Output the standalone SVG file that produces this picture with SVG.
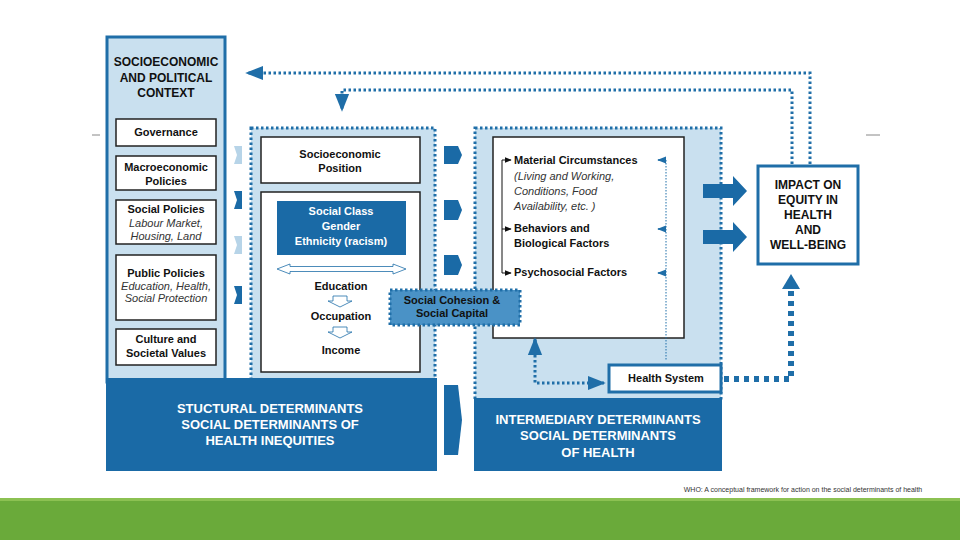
<svg xmlns="http://www.w3.org/2000/svg" width="960" height="540" viewBox="0 0 960 540">
<style>
text{font-family:"Liberation Sans",Arial,sans-serif;font-weight:bold;fill:#111;text-anchor:middle}
.wb{fill:#fff;stroke:#222;stroke-width:1.5}
.dot{fill:#c9e0ef;stroke:#1f6ea8;stroke-width:3;stroke-dasharray:2.5 2.5}
.dl{fill:none;stroke:#1f6ea8;stroke-width:3;stroke-dasharray:2.5 2.5}
.it{font-weight:normal;font-style:italic;fill:#333}
.w{fill:#fff}
.bl{fill:#1a6aa6}
</style>
<defs>
<marker id="ah" viewBox="0 0 10 10" refX="5" refY="5" markerWidth="4" markerHeight="4" orient="auto"><path d="M0,0L10,5L0,10z" fill="#1f6ea8"/></marker>
<marker id="sa" viewBox="0 0 10 10" refX="9" refY="5" markerWidth="6" markerHeight="6" orient="auto"><path d="M0,1L10,5L0,9z" fill="#1f6ea8"/></marker>
<marker id="ka" viewBox="0 0 10 10" refX="9" refY="5" markerWidth="7" markerHeight="7" orient="auto"><path d="M0,1L10,5L0,9z" fill="#111"/></marker>
</defs>
<rect width="960" height="540" fill="#fff"/>
<line x1="92" y1="135" x2="100" y2="135" stroke="#888"/>
<line x1="866" y1="135" x2="880" y2="135" stroke="#888"/>

<g id="context">
<rect x="107" y="37" width="118" height="345" fill="#c9e0ef" stroke="#1f6ea8" stroke-width="3"/>
<text x="166" y="66" font-size="12">SOCIOECONOMIC</text>
<text x="166" y="82" font-size="12">AND POLITICAL</text>
<text x="166" y="97" font-size="12">CONTEXT</text>
</g>
<g id="governance"><rect class="wb" x="116" y="119" width="100" height="27"/><text x="166" y="136" font-size="11">Governance</text></g>
<g id="macro"><rect class="wb" x="116" y="156" width="100" height="34"/><text x="166" y="171" font-size="11">Macroeconomic</text><text x="166" y="185" font-size="11">Policies</text></g>
<g id="social-policies"><rect class="wb" x="116" y="200" width="100" height="44"/><text x="166" y="213" font-size="11">Social Policies</text><text class="it" x="166" y="227" font-size="11">Labour Market,</text><text class="it" x="166" y="240" font-size="11">Housing, Land</text></g>
<g id="public-policies"><rect class="wb" x="116" y="255" width="100" height="65"/><text x="166" y="277" font-size="11">Public Policies</text><text class="it" x="166" y="290" font-size="11">Education, Health,</text><text class="it" x="166" y="302" font-size="11">Social Protection</text></g>
<g id="culture"><rect class="wb" x="116" y="329" width="100" height="36"/><text x="166" y="343" font-size="11">Culture and</text><text x="166" y="357" font-size="11">Societal Values</text></g>

<g id="structural">
<rect class="dot" x="251" y="128" width="184" height="252"/>
<rect class="bl" x="106" y="378" width="331" height="93"/>
<text class="w" x="270" y="413" font-size="13">STUCTURAL DETERMINANTS</text>
<text class="w" x="270" y="429" font-size="13">SOCIAL DETERMINANTS OF</text>
<text class="w" x="270" y="445" font-size="13">HEALTH INEQUITIES</text>
</g>
<g id="sep"><rect class="wb" x="261" y="137" width="159" height="46"/><text x="340" y="158" font-size="11">Socioeconomic</text><text x="340" y="172" font-size="11">Position</text></g>
<g id="class-box">
<rect class="wb" x="261" y="192" width="159" height="180"/>
<rect class="bl" x="277" y="201" width="129" height="54"/>
<text class="w" x="341" y="215" font-size="11">Social Class</text>
<text class="w" x="341" y="230" font-size="11">Gender</text>
<text class="w" x="341" y="245" font-size="11">Ethnicity (racism)</text>
<path d="M277,269L290,264V266.5H393V264L406,269L393,274V271.5H290V274Z" fill="#fff" stroke="#1f6ea8" stroke-width="0.8"/>
<text x="341" y="290" font-size="11">Education</text>
<path d="M330,295h5v4h-5h17v4h-5v-4" fill="none"/>
<path d="M333,296h14v5h5l-12,6l-12,-6h5z" fill="#fff" stroke="#1f6ea8" stroke-width="0.8"/>
<text x="341" y="320" font-size="11">Occupation</text>
<path d="M333,327h14v5h5l-12,6l-12,-6h5z" fill="#fff" stroke="#1f6ea8" stroke-width="0.8"/>
<text x="341" y="354" font-size="11">Income</text>
</g>

<g id="intermediary">
<rect class="dot" x="475" y="128" width="246" height="272"/>
<rect class="bl" x="474" y="398" width="248" height="73"/>
<text class="w" x="598" y="424" font-size="13">INTERMEDIARY DETERMINANTS</text>
<text class="w" x="598" y="440" font-size="13">SOCIAL DETERMINANTS</text>
<text class="w" x="598" y="457" font-size="13">OF HEALTH</text>
</g>
<g id="factors">
<rect class="wb" x="493" y="137" width="191" height="201"/>
<path d="M502,273V160" fill="none" stroke="#111"/>
<path d="M502,160H511" stroke="#111" marker-end="url(#ka)"/>
<path d="M502,229H511" stroke="#111" marker-end="url(#ka)"/>
<path d="M502,273H511" stroke="#111" marker-end="url(#ka)"/>
<g style="text-anchor:start">
<text x="514" y="164" font-size="11" style="text-anchor:start">Material Circumstances</text>
<text class="it" x="514" y="180" font-size="11" style="text-anchor:start">(Living and Working,</text>
<text class="it" x="514" y="195" font-size="11" style="text-anchor:start">Conditions, Food</text>
<text class="it" x="514" y="210" font-size="11" style="text-anchor:start">Availability, etc. )</text>
<text x="514" y="232" font-size="11" style="text-anchor:start">Behaviors and</text>
<text x="514" y="247" font-size="11" style="text-anchor:start">Biological Factors</text>
<text x="514" y="276" font-size="11" style="text-anchor:start">Psychosocial Factors</text>
</g>
</g>
<g id="cohesion"><rect x="390" y="290" width="130" height="35" fill="#4a92c6" stroke="#1f6ea8" stroke-width="3" stroke-dasharray="2.5 2.5"/><text x="452" y="304" font-size="11">Social Cohesion &amp;</text><text x="452" y="317" font-size="11">Social Capital</text></g>
<g id="health-system"><rect x="609" y="365" width="112" height="27" fill="#fff" stroke="#1f6ea8" stroke-width="3"/><text x="666" y="382" font-size="11">Health System</text></g>
<g id="impact"><rect x="758" y="166" width="100" height="98" fill="#fff" stroke="#1f6ea8" stroke-width="3"/>
<text x="808" y="189" font-size="12">IMPACT ON</text><text x="808" y="204" font-size="12">EQUITY IN</text><text x="808" y="219" font-size="12">HEALTH</text><text x="808" y="234" font-size="12">AND</text><text x="808" y="249" font-size="12">WELL-BEING</text></g>

<g id="connectors">
<path class="dl" d="M810,164V73H247" marker-end="url(#sa)" style="stroke-width:3"/>
<path class="dl" d="M792,164V90H342V110" marker-end="url(#sa)"/>
<path d="M666,160V360" fill="none" stroke="#1f6ea8" stroke-width="1" stroke-dasharray="1.5 1.5"/>
<path d="M664,160l-6,0" stroke="#1f6ea8" stroke-width="1.5" marker-end="url(#sa)"/>
<path d="M664,229l-6,0" stroke="#1f6ea8" stroke-width="1.5" marker-end="url(#sa)"/>
<path d="M664,273l-6,0" stroke="#1f6ea8" stroke-width="1.5" marker-end="url(#sa)"/>
<path class="dl" d="M535,340V383H604" marker-end="url(#sa)"/>
<path d="M535,342l0,-3" stroke="#1f6ea8" stroke-width="3" marker-end="url(#sa)"/>
<path d="M724,379H791V285" fill="none" stroke="#1f6ea8" stroke-width="6" stroke-dasharray="5 5"/>
<path d="M782,289L791,274L800,289Z" fill="#1f6ea8"/>
<path d="M703,184H733V176L747,191L733,206V198H703Z" fill="#1a6aa6"/>
<path d="M703,230H733V222L747,237L733,252V244H703Z" fill="#1a6aa6"/>
<g fill="#1a6aa6">
<path d="M444,146H458L462,155L458,164H444Z"/>
<path d="M444,200H458L462,210L458,220H444Z"/>
<path d="M444,255H458L462,265L458,275H444Z"/>
<path d="M444,385L458,385L462,420L458,455L444,455Z"/>
<path d="M234,191H242V209H234L237,200Z"/>
<path d="M234,286H242V304H234L237,295Z"/>
</g>
<g fill="#b7d4e8">
<path d="M234,146H242V164H234L237,155Z"/>
<path d="M234,236H242V254H234L237,245Z"/>
</g>
</g>
<text x="803" y="492" font-size="7" style="font-weight:normal;fill:#333">WHO: A conceptual framework for action on the social determinants of health</text>
<rect x="0" y="498" width="960" height="42" fill="#6aaa3a"/>
<rect x="0" y="498" width="960" height="3" fill="#8cc152"/>
</svg>
